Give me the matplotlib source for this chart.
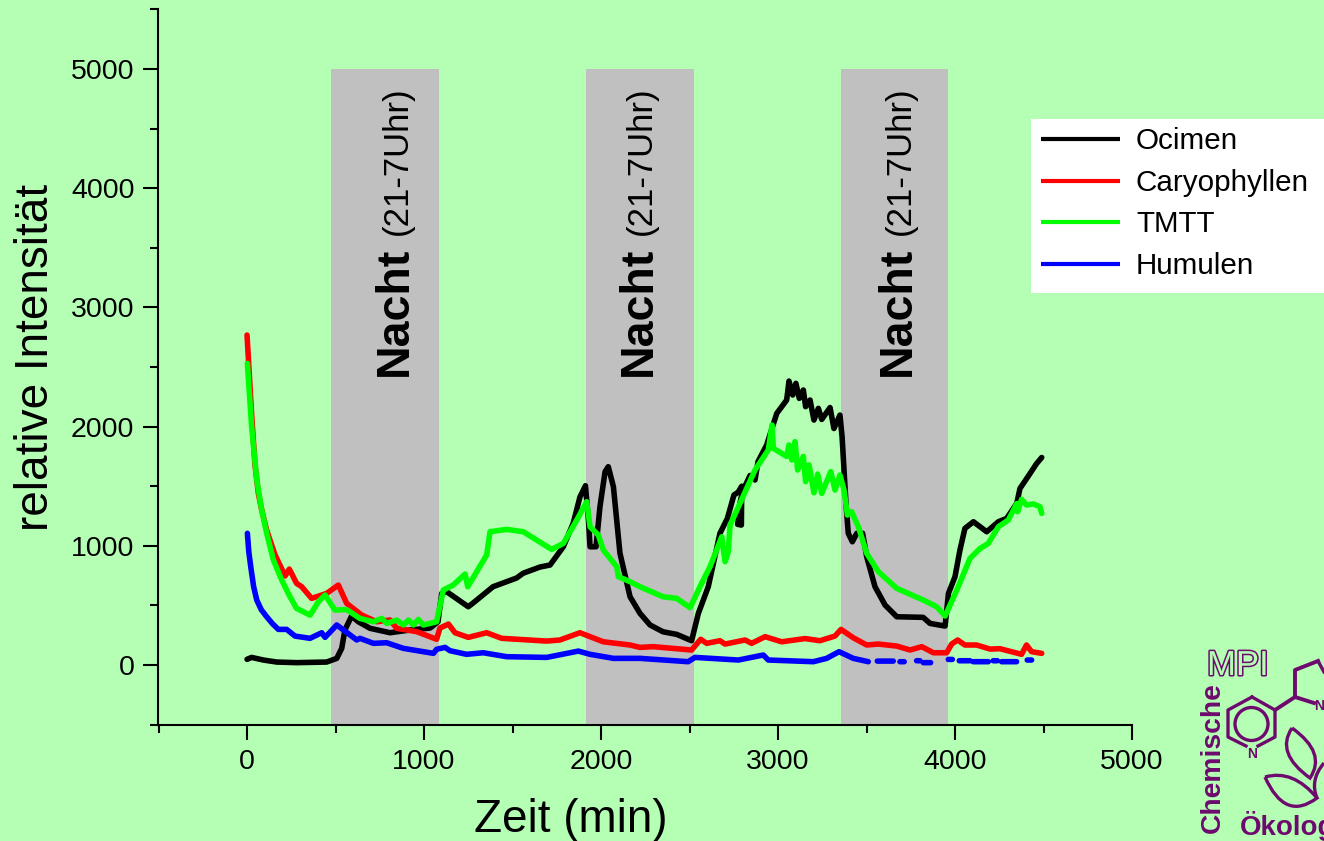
import numpy as np
import matplotlib
matplotlib.use('Agg')
import matplotlib.pyplot as plt
from matplotlib.patches import Circle, PathPatch, Rectangle
from matplotlib.path import Path
import matplotlib.patheffects as pe

plt.rcParams['font.family'] = ['Liberation Sans', 'DejaVu Sans']

BG = '#b5ffb5'
PURPLE = '#6e0a6e'

# night phases (min)
night_start = [475, 1915, 3356]
night_end = [1085, 2525, 3960]
night_label_x = [835, 2215, 3680]

ocimen_x = [0, 26, 92, 168, 280, 450, 507, 535, 553, 591, 629, 695, 808, 921, 1034, 1079, 1100, 1128,
            1250, 1277, 1390, 1523, 1560, 1655, 1712, 1787, 1843, 1881, 1912, 1929, 1938, 1972, 1994,
            2023, 2041, 2070, 2107, 2164, 2220, 2277, 2350, 2428, 2512, 2550, 2606, 2672, 2714, 2751,
            2775, 2795, 2793, 2772, 2785, 2804, 2842, 2870, 2887, 2936, 2993, 3049, 3062, 3083, 3101, 3120, 3143,
            3156, 3181, 3203, 3228, 3247, 3294, 3316, 3350, 3362, 3384, 3397, 3420, 3445, 3478, 3501,
            3548, 3605, 3671, 3820, 3859, 3944, 3963, 4000, 4028, 4056, 4104, 4179, 4245, 4292, 4349,
            4367, 4412, 4461, 4490]
ocimen_y = [48, 64, 42, 25, 20, 25, 56, 140, 294, 411, 363, 308, 271, 294, 310, 363, 601, 615,
            489, 520, 657, 730, 770, 822, 839, 992, 1190, 1410, 1504, 1216, 992, 992, 1328,
            1622, 1664, 1496, 938, 573, 434, 336, 279, 257, 204, 434, 657, 1105, 1230, 1426,
            1450, 1500, 1174, 1180, 1360, 1470, 1590, 1552, 1706, 1846, 2111, 2223, 2382, 2265, 2363, 2237, 2307,
            2167, 2223, 2055, 2153, 2060, 2160, 1984, 2097, 1915, 1355, 1105, 1034, 1105, 1105, 909,
            657, 503, 405, 400, 349, 327, 601, 741, 965, 1146, 1202, 1118, 1202, 1230, 1356,
            1481, 1580, 1690, 1741]

caryo_x = [0, 26, 45, 64, 83, 111, 158, 215, 239, 280, 309, 365, 450, 516, 563, 648, 733, 808, 846, 959,
           1071, 1090, 1138, 1175, 1250, 1354, 1439, 1693, 1768, 1881, 2013, 2164, 2220, 2295, 2512,
           2563, 2597, 2672, 2701, 2814, 2851, 2927, 3021, 3153, 3237, 3322, 3356, 3425, 3501, 3567,
           3671, 3746, 3812, 3878, 3953, 3981, 4015, 4056, 4122, 4198, 4254, 4376, 4404, 4433, 4490]
caryo_y = [2768, 2100, 1680, 1440, 1300, 1130, 925, 747, 805, 685, 657, 559, 601, 671, 517, 419, 363, 378, 308, 280,
           216, 310, 344, 271, 232, 271, 224, 201, 210, 271, 195, 168, 148, 154, 126,
           216, 182, 204, 176, 210, 182, 238, 195, 222, 204, 243, 299, 229, 168, 176,
           159, 126, 154, 103, 103, 176, 210, 168, 168, 134, 137, 90, 168, 112, 98]

tmtt_x = [2, 26, 55, 83, 112, 149, 196, 240, 280, 356, 403, 441, 497, 563, 638, 714, 761, 789, 846, 884, 912, 940, 968, 996,
          1071, 1109, 1165, 1232, 1247, 1354, 1373, 1467, 1561, 1721, 1787, 1863, 1919, 1938, 1985,
          2013, 2089, 2098, 2164, 2220, 2350, 2428, 2503, 2559, 2616, 2682, 2701, 2719, 2729, 2785,
          2870, 2945, 2966, 2974, 3049, 3062, 3078, 3096, 3111, 3143, 3156, 3175, 3203, 3224, 3247,
          3298, 3322, 3350, 3373, 3392, 3416, 3454, 3501, 3567, 3671, 3821, 3897, 3944, 4010, 4085,
          4141, 4188, 4245, 4301, 4349, 4354, 4376, 4404, 4442, 4480, 4490]
tmtt_y = [2530, 2000, 1552, 1300, 1100, 881, 713, 580, 475, 419, 531, 587, 461, 465, 391, 363, 391, 349, 377, 336, 377, 336, 383, 336,
          363, 629, 671, 763, 657, 923, 1118, 1138, 1118, 970, 1020, 1216, 1370, 1160, 1090,
          965, 825, 741, 699, 657, 573, 559, 481, 657, 825, 1076, 867, 951, 1174, 1356,
          1636, 1804, 2013, 1817, 1750, 1846, 1720, 1874, 1636, 1750, 1538, 1678, 1445, 1602, 1440,
          1622, 1468, 1594, 1468, 1258, 1286, 1160, 937, 783, 643, 545, 489, 411, 629, 895,
          977, 1020, 1160, 1216, 1354, 1286, 1390, 1342, 1351, 1328, 1272]

# nan = gaps in the measured trace
nan = float('nan')
humulen_x = [2, 10, 21, 37, 55, 80, 111, 145, 177, 224, 271, 356, 422, 441, 507, 620, 638, 714, 789, 883, 1053, 1071,
             1119, 1147, 1240, 1335, 1467, 1693, 1872, 1938, 2070, 2164, 2220, 2492, 2531, 2776, 2917,
             2945, 3200, 3275, 3345, 3425, 3510, 3530, 3561, 3651, 3670, 3689, 3713, 3750, 3783, 3802,
             3810, 3821, 3862, 3900, 3962, 3985, 4000, 4024, 4085, 4095, 4103, 4188, 4200, 4216, 4239,
             4250, 4263, 4348, 4380, 4408, 4433]
humulen_y = [1105, 950, 825, 660, 545, 465, 405, 345, 299, 299, 243, 224, 271, 232, 336, 210, 224, 182, 187, 140, 98, 132,
             148, 120, 90, 103, 70, 64, 117, 90, 56, 56, 56, 28, 64, 42, 84,
             42, 28, 56, 112, 56, 28, nan, 33, 33, nan, 28, 28, nan, 36, 36,
             nan, 20, 20, nan, 47, 47, nan, 36, 36, nan, 28, 28, nan, 36, 36,
             nan, 28, 28, nan, 42, 42]

series_names = ['Ocimen', 'Caryophyllen', 'TMTT', 'Humulen']
series_colors = ['black', 'red', '#00ff00', 'blue']

x_ticks = [0, 1000, 2000, 3000, 4000, 5000]
y_ticks = [0, 1000, 2000, 3000, 4000, 5000]

fig = plt.figure(figsize=(13.24, 8.41), dpi=100, facecolor=BG)
ax = fig.add_axes([158 / 1324, 1 - 725 / 841, (1132 - 158) / 1324, (725 - 9) / 841])
ax.set_facecolor(BG)
ax.set_xlim(-503, 5000)
ax.set_ylim(-503, 5503)

for s, e, lx in zip(night_start, night_end, night_label_x):
    ax.fill_between([s, e], -503, 5000, color='#c0c0c0', lw=0, zorder=1)
    ax.text(lx, 2425, 'Nacht', rotation=90, fontsize=33.5, fontweight='bold', ha='center', va='bottom', zorder=5)
    ax.text(lx + 12, 3607, '(21-7Uhr)', rotation=90, fontsize=25, ha='center', va='bottom', zorder=5)

line_kw = dict(lw=4.0, solid_capstyle='round', solid_joinstyle='round', zorder=3, clip_on=False)
ax.plot(ocimen_x, ocimen_y, color=series_colors[0], label=series_names[0], **line_kw)
ax.plot(caryo_x, caryo_y, color=series_colors[1], label=series_names[1], **line_kw)
ax.plot(humulen_x, humulen_y, color=series_colors[3], label=series_names[3], **line_kw)
ax.plot(tmtt_x, tmtt_y, color=series_colors[2], label=series_names[2], **line_kw)

ax.spines['top'].set_visible(False)
ax.spines['right'].set_visible(False)
ax.spines['left'].set_linewidth(1.5)
ax.spines['bottom'].set_linewidth(1.5)
ax.set_xticks(x_ticks)
ax.set_yticks(y_ticks)
ax.set_xticks(np.arange(-500, 5000, 1000), minor=True)
ax.set_yticks(np.arange(-500, 5600, 1000), minor=True)
ax.tick_params(which='major', length=11, width=1.5, labelsize=20.5, pad=6)
ax.tick_params(which='minor', length=6, width=1.5)
ax.set_xlabel('Zeit (min)', fontsize=33)
ax.set_ylabel('relative Intensität', fontsize=33)
ax.xaxis.set_label_coords(0.424, -0.102)
ax.yaxis.set_label_coords(-0.103, 0.513)

# white legend box runs to the right edge of the picture
fig.add_artist(Rectangle((1031 / 1324, 1 - 293 / 841), 293 / 1324, 174 / 841, transform=fig.transFigure,
                         fc='white', ec='none', zorder=4))
handles, labels = ax.get_legend_handles_labels()
order = [labels.index(n) for n in series_names]
leg = fig.legend([handles[i] for i in order], [labels[i] for i in order],
                 loc='upper left', bbox_to_anchor=(1033 / 1324, 1 - 119 / 841), borderaxespad=0,
                 fontsize=21.3, frameon=False, handlelength=2.65, handletextpad=0.55, labelspacing=0.46,
                 borderpad=0.28)
leg.set_zorder(6)
for h in leg.get_lines():
    h.set_linewidth(3)
    h.set_solid_capstyle('butt')

# logo in the lower right corner, drawn in image pixels
logo = fig.add_axes([0, 0, 1, 1], facecolor='none')
logo.set_xlim(0, 1324)
logo.set_ylim(841, 0)
logo.axis('off')

logo.text(1207, 675, 'MPI', fontsize=25, color=BG, va='baseline', ha='left',
          path_effects=[pe.withStroke(linewidth=2.2, foreground=PURPLE)])
logo.text(1226, 833, 'Chemische', fontsize=20.3, fontweight='bold', color=PURPLE, rotation=90,
          ha='right', va='bottom')
logo.text(1240, 835, 'Ökologie', fontsize=20, fontweight='bold', color=PURPLE, va='baseline', ha='left',
          clip_on=True)
logo.text(1252, 758, 'N', fontsize=10, color=PURPLE, ha='center', va='baseline', fontweight='bold')
logo.text(1319, 710, 'N', fontsize=10, color=PURPLE, ha='center', va='baseline', fontweight='bold')

ring_x = [1252, 1275, 1275, 1258, nan, 1246, 1228, 1228, 1252]
ring_y = [697, 710, 737, 746, nan, 746, 737, 710, 697]
bond_x = [1275, 1295, 1295, 1318, nan, 1295, 1314]
bond_y = [710, 697, 670, 661, nan, 697, 703]
logo.plot(ring_x, ring_y, color=PURPLE, lw=2.4)
logo.plot(bond_x, bond_y, color=PURPLE, lw=2.8)
logo.plot([1318, 1324], [661, 672], color=PURPLE, lw=2.4)
logo.add_patch(Circle((1251.5, 724), 16.5, fill=False, ec=PURPLE, lw=2.4))

leaf_ends = [((1292, 728), (1310, 778)), ((1265, 777), (1317, 798))]
leaf_ctrl = [((1275, 753), (1327, 753)), ((1293, 769), (1285, 822))]
for (a, b), (c1, c2) in zip(leaf_ends, leaf_ctrl):
    p = Path([a, c1, b, c2, a], [Path.MOVETO, Path.CURVE3, Path.CURVE3, Path.CURVE3, Path.CURVE3])
    logo.add_patch(PathPatch(p, fill=False, ec=PURPLE, lw=2.4))
logo.add_patch(PathPatch(Path([(1317, 798), (1309.5, 780), (1324, 763)], [Path.MOVETO, Path.CURVE3, Path.CURVE3]),
                         fill=False, ec=PURPLE, lw=2.4))

fig.savefig('out.png', dpi=100, facecolor=BG)
